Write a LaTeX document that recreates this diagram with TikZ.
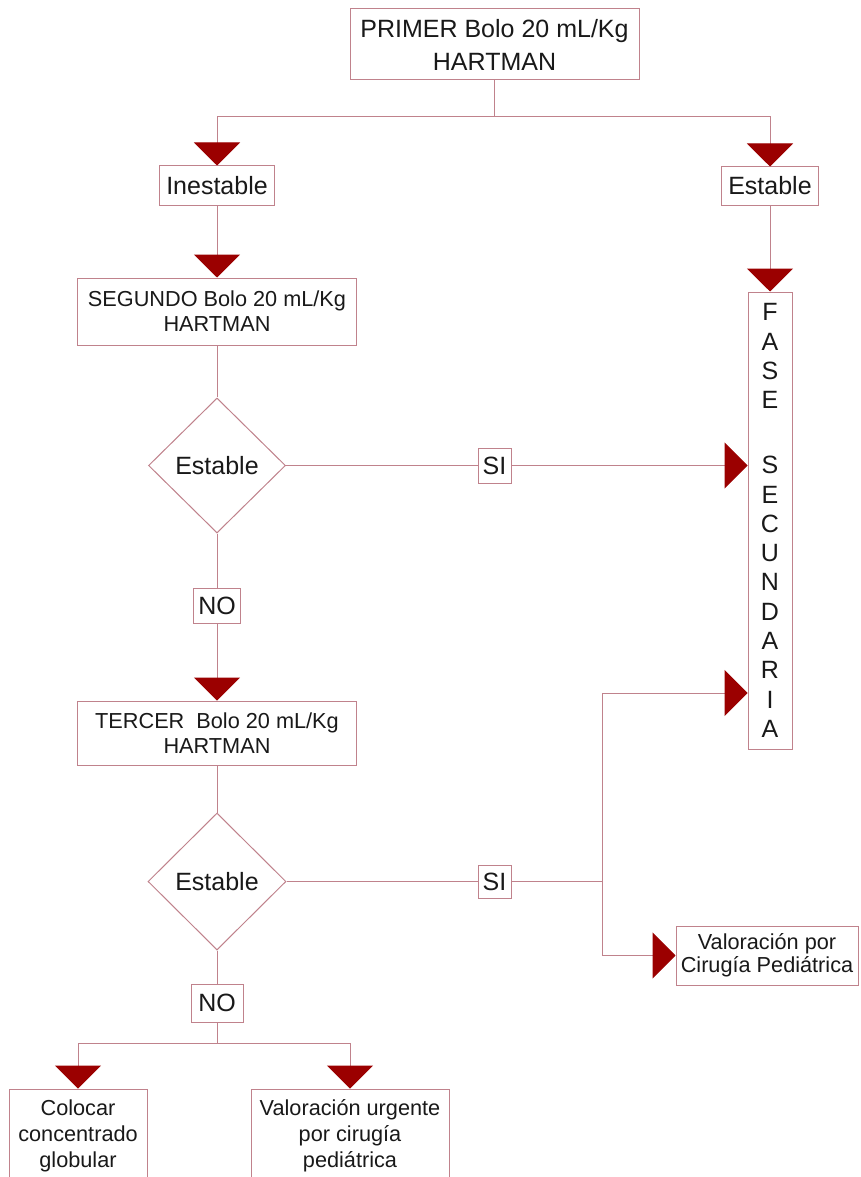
\documentclass[tikz,border=0pt]{standalone}
\usepackage{fontspec}
\setmainfont{Liberation Sans}
\usetikzlibrary{arrows.meta,shapes.geometric}
\definecolor{lnc}{RGB}{192,130,140}
\definecolor{arrc}{RGB}{155,0,0}
\definecolor{txt}{RGB}{25,25,25}
\begin{document}
\begin{tikzpicture}[x=1pt,y=-1pt,
  ln/.style={draw=lnc,line width=1pt},
  arr/.style={ln,-{Triangle[length=23pt,width=46pt,fill=arrc,color=arrc]}},
  bx/.style={draw=lnc,line width=1pt,fill=white,rectangle,inner sep=0pt,align=center,text=txt},
  big/.style={font=\fontsize{25}{33}\selectfont},
  small/.style={font=\fontsize{21.7}{25}\selectfont},
  dia/.style={draw=lnc,line width=1pt,fill=white,diamond,inner sep=0pt,text=txt,font=\fontsize{25}{30}\selectfont}
]
\clip (0,0) rectangle (861,1177);
\fill[white] (0,0) rectangle (861,1177);

% nodes
\node[bx,font=\fontsize{25}{33}\selectfont,minimum width=289pt,minimum height=71pt] (top) at (494.5,44.5) {PRIMER Bolo 20 mL/Kg\\HARTMAN};
\node[bx,big,minimum width=115pt,minimum height=39pt] (inest) at (217,185.5) {Inestable};
\node[bx,big,minimum width=97pt,minimum height=38pt] (est) at (770,186) {Estable};
\node[bx,small,minimum width=279pt,minimum height=67pt] (seg) at (217,311.5) {SEGUNDO Bolo 20 mL/Kg\\HARTMAN};
\node[dia,minimum width=137pt,minimum height=135pt] (d1) at (217,465.5) {Estable};
\node[bx,big,minimum width=33pt,minimum height=35pt] (si1) at (494.5,465.5) {SI};
\node[bx,font=\fontsize{25}{29.3}\selectfont,minimum width=44pt,minimum height=457pt] (fase) at (770,520.5)
  {F\\A\\S\\E\\[35.7pt]S\\E\\C\\U\\N\\D\\A\\R\\I\\A};
\node[bx,big,minimum width=47pt,minimum height=35pt] (no1) at (217,605.5) {NO};
\node[bx,small,minimum width=279pt,minimum height=64pt] (ter) at (217,733) {TERCER~ Bolo 20 mL/Kg\\HARTMAN};
\node[dia,minimum width=138pt,minimum height=137pt] (d2) at (217,881.5) {Estable};
\node[bx,big,minimum width=33pt,minimum height=33pt] (si2) at (494.5,881.5) {SI};
\node[bx,font=\fontsize{21.7}{23}\selectfont,minimum width=182pt,minimum height=59pt] (val) at (767,955.5) {Valoraci\'on por\\Cirug\'ia Pedi\'atrica};
\node[bx,big,minimum width=52pt,minimum height=38pt] (no2) at (217,1003) {NO};
\node[bx,font=\fontsize{21.7}{26}\selectfont,minimum width=138pt,minimum height=94pt] (col) at (78,1136) {Colocar\\concentrado\\globular};
\node[bx,font=\fontsize{21.7}{26}\selectfont,minimum width=198pt,minimum height=94pt] (urg) at (350,1136) {Valoraci\'on urgente\\por cirug\'ia\\pedi\'atrica};

% junctions
\coordinate (j1) at (494.5,117);
\coordinate (j2) at (602,881.5);
\coordinate (k1) at (602,693);
\coordinate (j3) at (217,1043);

% connectors
\draw[ln] (top) -- (j1);
\draw[arr] (j1) -| (inest);
\draw[arr] (j1) -| (est);
\draw[arr] (inest) -- (seg);
\draw[arr] (est) -- (fase);
\draw[ln] (seg) -- (d1);
\draw[ln] (d1.east) -- (si1.west);
\draw[arr] (si1.east) -- (si1.east -| fase.west);
\draw[ln] (d1.south) -- (no1.north);
\draw[arr] (no1) -- (ter);
\draw[ln] (ter) -- (d2);
\draw[ln] (d2.east) -- (si2.west);
\draw[ln] (si2.east) -- (j2);
\draw[arr] (j2) -- (k1) -- (k1 -| fase.west);
\draw[arr] (j2) |- (val.west);
\draw[ln] (d2.south) -- (no2.north);
\draw[ln] (no2) -- (j3);
\draw[arr] (j3) -| (col);
\draw[arr] (j3) -| (urg);
\end{tikzpicture}
\end{document}
